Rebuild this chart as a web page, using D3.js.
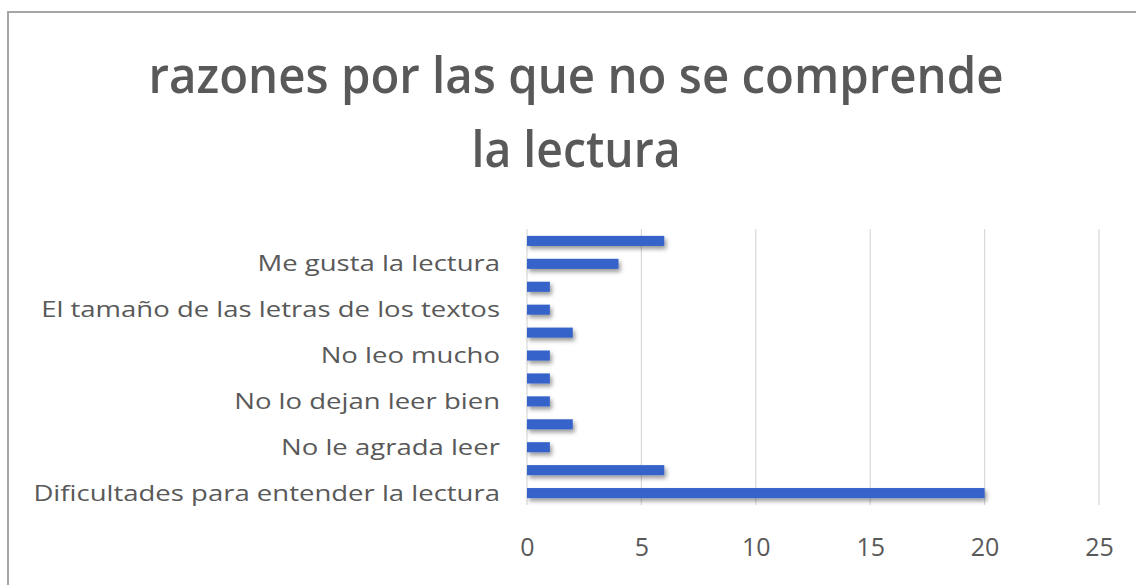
<!DOCTYPE html>
<html>
<head>
<meta charset="utf-8">
<script src="https://cdn.jsdelivr.net/npm/d3@7"></script>
<style>
  html, body { margin: 0; padding: 0; background: #fff; }
  svg { display: block; }
</style>
</head>
<body>
<svg id="chart" width="1136" height="585"></svg>
<script>
// Data (bottom to top, as in the original chart). Unlabelled categories were hidden by the axis.
const categories = [
  "Dificultades para entender la lectura", "",
  "No le agrada leer", "",
  "No lo dejan leer bien", "",
  "No leo mucho", "",
  "El tamaño de las letras de los textos", "",
  "Me gusta la lectura", ""
];
const values = [20, 6, 1, 2, 1, 1, 1, 2, 1, 1, 4, 6];
const xTicks = [0, 5, 10, 15, 20, 25];
const titleLines = ["razones por las que no se comprende", "la lectura"];

const svg = d3.select("#chart");
const W = 1136, H = 585;
const plot = { left: 527, right: 1099, top: 229, bottom: 505 };

// frame (cropped chart border)
svg.append("path")
  .attr("d", `M8,${H} L8,12 L${W},12`)
  .attr("fill", "none").attr("stroke", "#a6a6a6").attr("stroke-width", 2);

// drop shadow filter
const defs = svg.append("defs");
const f = defs.append("filter").attr("id", "shadow")
  .attr("x", "-5%").attr("y", "-50%").attr("width", "115%").attr("height", "250%");
f.append("feDropShadow").attr("dx", 2).attr("dy", 3).attr("stdDeviation", 2)
  .attr("flood-color", "#000").attr("flood-opacity", 0.4);

// title (stretched to match the original's proportions)
const titleWidths = [855, 209];
svg.append("g").selectAll("text").data(titleLines).join("text")
  .attr("x", 576).attr("y", (d, i) => 93 + i * 74)
  .attr("text-anchor", "middle")
  .attr("font-family", "'Open Sans', sans-serif")
  .attr("font-weight", 600)
  .attr("font-size", 51)
  .attr("fill", "#595959")
  .attr("textLength", (d, i) => titleWidths[i])
  .attr("lengthAdjust", "spacingAndGlyphs")
  .text(d => d);

const x = d3.scaleLinear().domain([0, 25]).range([plot.left, plot.right]);
const idx = d3.range(categories.length);
const y = d3.scaleBand().domain(idx.slice().reverse()).range([plot.top, plot.bottom]).paddingInner(0.56).paddingOuter(0.3);

// gridlines
svg.append("g").selectAll("line").data(xTicks).join("line")
  .attr("x1", d => x(d)).attr("x2", d => x(d))
  .attr("y1", plot.top).attr("y2", plot.bottom)
  .attr("stroke", "#d9d9d9").attr("stroke-width", 1.2);

// bars
svg.append("g").attr("filter", "url(#shadow)")
  .selectAll("rect").data(idx).join("rect")
  .attr("x", x(0))
  .attr("y", i => y(i))
  .attr("width", i => x(values[i]) - x(0))
  .attr("height", y.bandwidth())
  .attr("fill", "#3563c9");

// x axis labels
const xAxis = d3.axisBottom(x).tickValues(xTicks).tickSize(0).tickPadding(0);
const gx = svg.append("g").attr("transform", `translate(0,${plot.bottom + 33})`).call(xAxis);
gx.select(".domain").remove();
gx.selectAll("text")
  .attr("font-family", "'Open Sans', sans-serif")
  .attr("font-size", 25).attr("fill", "#595959");

// y axis labels
const yAxis = d3.axisLeft(y).tickFormat(i => categories[i]).tickSize(0).tickPadding(27);
const gy = svg.append("g").attr("transform", `translate(${plot.left},0)`).call(yAxis);
gy.select(".domain").remove();
gy.selectAll("text")
  .attr("font-family", "'Open Sans', sans-serif")
  .attr("font-size", 22).attr("fill", "#595959")
  .attr("dy", "0.34em")
  .each(function () {
    const len = this.getComputedTextLength();
    if (len > 0) {
      d3.select(this).attr("textLength", len * 1.25).attr("lengthAdjust", "spacingAndGlyphs");
    }
  });
</script>
</body>
</html>
